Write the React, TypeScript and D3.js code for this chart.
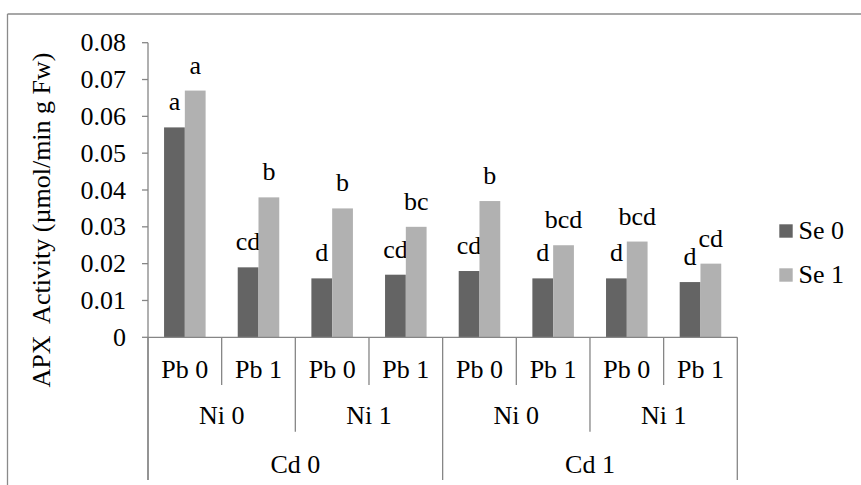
import React from "react";
import * as d3 from "d3";

const pbLabels = ["Pb 0", "Pb 1", "Pb 0", "Pb 1", "Pb 0", "Pb 1", "Pb 0", "Pb 1"];
const niLabels = ["Ni 0", "Ni 1", "Ni 0", "Ni 1"];
const cdLabels = ["Cd 0", "Cd 1"];
const seriesNames = ["Se 0", "Se 1"];
const se0Values = [0.057, 0.019, 0.016, 0.017, 0.018, 0.016, 0.016, 0.015];
const se1Values = [0.067, 0.038, 0.035, 0.030, 0.037, 0.025, 0.026, 0.020];
const se0Letters = ["a", "cd", "d", "cd", "cd", "d", "d", "d"];
const se1Letters = ["a", "b", "b", "bc", "b", "bcd", "bcd", "cd"];
const yTicks = [0, 0.01, 0.02, 0.03, 0.04, 0.05, 0.06, 0.07, 0.08];
const yTitle = "APX  Activity (µmol/min g Fw)";

const colors = ["#646464", "#b1b1b1"];
const axisColor = "#868686";
const FONT = "'Liberation Serif', 'DejaVu Serif', serif";

export default function App() {
  const W = 861, H = 485;
  const left = 148, right = 737.3, top = 42.7, bottom = 337.3;
  const y = d3.scaleLinear().domain([0, 0.08]).range([bottom, top]);
  const idx = d3.range(pbLabels.length).map(String);
  const x = d3.scaleBand<string>().domain(idx).range([left, right]).paddingInner(0).paddingOuter(0);
  const cell = x.bandwidth();
  const barW = cell * 0.282;
  const series = [se0Values, se1Values];
  const letters = [se0Letters, se1Letters];
  const fs = 26;

  return (
    <svg width={W} height={H} style={{ position: "absolute", left: 0, top: 0, background: "#fff" }} fontFamily={FONT}>
      <rect x={0} y={0} width={W} height={H} fill="#fff" />
      {/* chart border */}
      <line x1={7.5} x2={W} y1={14} y2={14} stroke="#8a8a8a" strokeWidth={1.3} />
      <line x1={7.5} x2={7.5} y1={14} y2={H} stroke="#8a8a8a" strokeWidth={1.3} />

      {/* y axis */}
      <line x1={left} x2={left} y1={top} y2={480} stroke={axisColor} strokeWidth={1.3} />
      {yTicks.map((t) => (
        <g key={t}>
          <line x1={left - 6} x2={left} y1={y(t)} y2={y(t)} stroke={axisColor} strokeWidth={1.3} />
          <text x={126} y={y(t)} dy="0.33em" textAnchor="end" fontSize={fs} fill="#000">
            {t === 0 ? "0" : d3.format(".2f")(t)}
          </text>
        </g>
      ))}
      <text
        transform={`translate(50,220) rotate(-90)`}
        textAnchor="middle"
        fontSize={fs}
        fill="#000"
        style={{ whiteSpace: "pre" }}
      >
        {yTitle}
      </text>

      {/* bars */}
      {series.map((vals, s) =>
        vals.map((v, i) => {
          const cx = (x(String(i)) as number) + cell / 2;
          const bx = cx - barW + s * barW;
          return (
            <g key={`${s}-${i}`}>
              <rect x={bx} y={y(v)} width={barW} height={y(0) - y(v)} fill={colors[s]} />
              <text x={bx + barW / 2} y={y(v) - 17} textAnchor="middle" fontSize={fs} fill="#000">
                {letters[s][i]}
              </text>
            </g>
          );
        })
      )}

      {/* x axis */}
      <line x1={left} x2={right} y1={bottom} y2={bottom} stroke={axisColor} strokeWidth={1.3} />
      {d3.range(pbLabels.length + 1).map((i) => {
        const xx = i === pbLabels.length ? right : (x(String(i)) as number);
        let y2 = 385;
        if (i % 2 === 0) y2 = 431.7;
        if (i % 4 === 0) y2 = 480;
        return <line key={i} x1={xx} x2={xx} y1={bottom} y2={y2} stroke={axisColor} strokeWidth={1.3} />;
      })}
      {pbLabels.map((l, i) => (
        <text key={`pb${i}`} x={(x(String(i)) as number) + cell / 2} y={378} textAnchor="middle" fontSize={fs} fill="#000">
          {l}
        </text>
      ))}
      {niLabels.map((l, i) => (
        <text key={`ni${i}`} x={(x(String(i * 2)) as number) + cell} y={424.3} textAnchor="middle" fontSize={fs} fill="#000">
          {l}
        </text>
      ))}
      {cdLabels.map((l, i) => (
        <text key={`cd${i}`} x={(x(String(i * 4)) as number) + cell * 2} y={472.7} textAnchor="middle" fontSize={fs} fill="#000">
          {l}
        </text>
      ))}

      {/* legend */}
      {seriesNames.map((n, i) => (
        <g key={n}>
          <rect x={779.3} y={224.3 + i * 44} width={13.4} height={13.4} fill={colors[i]} />
          <text x={798.5} y={239.3 + i * 43.6} fontSize={fs} fill="#000">
            {n}
          </text>
        </g>
      ))}
    </svg>
  );
}
